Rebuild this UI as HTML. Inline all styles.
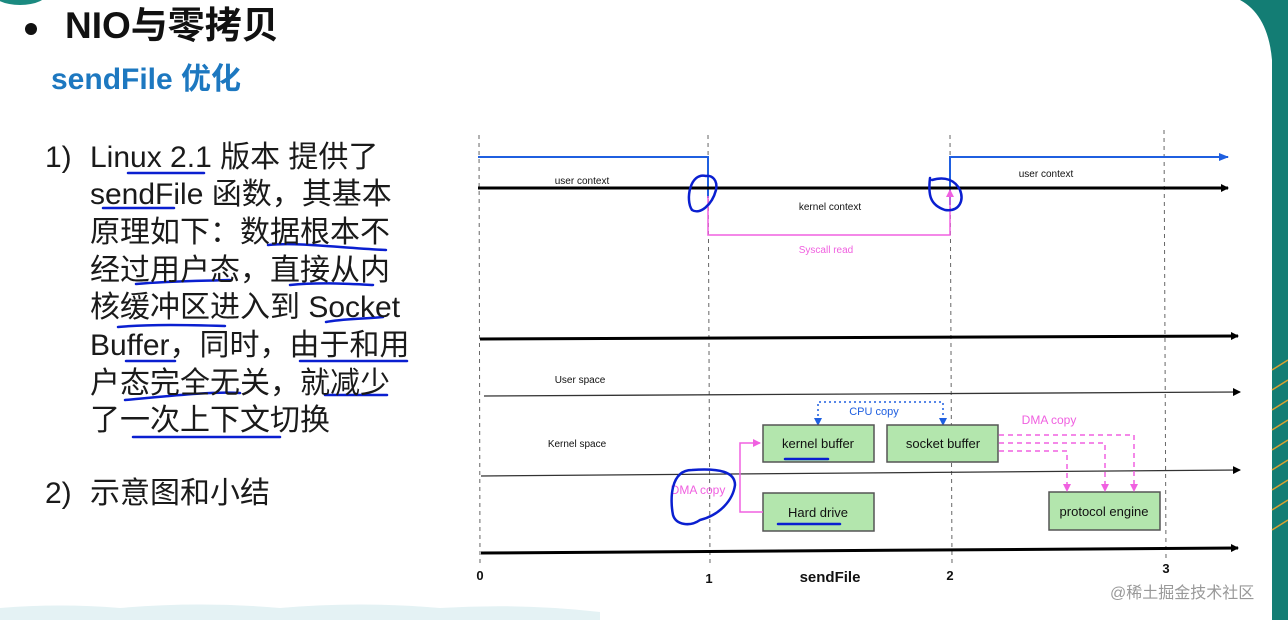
<!DOCTYPE html>
<html><head><meta charset="utf-8"><style>
html,body{margin:0;padding:0;background:#fff}
#w{position:relative;width:1288px;height:620px;overflow:hidden;background:#fff;font-family:"Liberation Sans","Noto Sans CJK SC",sans-serif}
.t{position:absolute;white-space:nowrap;color:#1a1a1a;font-size:30px;line-height:1}
</style></head><body><div id="w">
<svg width="1288" height="620" style="position:absolute;left:0;top:0" xmlns="http://www.w3.org/2000/svg">
<defs>
<marker id="ak" markerWidth="8" markerHeight="8" refX="7" refY="4" orient="auto" markerUnits="userSpaceOnUse"><path d="M0,0L8,4L0,8z" fill="#000"/></marker>
<marker id="ab" markerWidth="10" markerHeight="8" refX="9" refY="4" orient="auto" markerUnits="userSpaceOnUse"><path d="M0,0L10,4L0,8z" fill="#1f5fe0"/></marker>
<marker id="ap" markerWidth="8" markerHeight="8" refX="7" refY="4" orient="auto" markerUnits="userSpaceOnUse"><path d="M0,0L8,4L0,8z" fill="#f060e0"/></marker>
</defs>
<ellipse cx="20" cy="-8" rx="28" ry="13" fill="#1b8a80"/>
<path d="M1240,0 L1288,0 L1288,620 L1272,620 L1272,60 Q1268,15 1240,0z" fill="#137d74"/>
<path d="M1272,370 L1288,360 M1272,390 L1288,380 M1272,410 L1288,400 M1272,430 L1288,420 M1272,450 L1288,440 M1272,470 L1288,460 M1272,490 L1288,480 M1272,510 L1288,500 M1272,530 L1288,520" stroke="#d9a030" stroke-width="1.5"/>
<path d="M0,620 L0,608 Q60,603 120,608 Q200,601 280,608 Q360,601 440,608 Q520,603 600,612 L600,620z" fill="#e4f2f4"/>
<g stroke="#666" stroke-width="1" stroke-dasharray="4,4">
<line x1="479" y1="135" x2="480" y2="565"/><line x1="708" y1="135" x2="710" y2="565"/><line x1="950" y1="135" x2="952" y2="565"/><line x1="1164" y1="130" x2="1166" y2="560"/>
</g>
<path d="M478,157 H708 V198" fill="none" stroke="#1f5fe0" stroke-width="2"/>
<path d="M950,205 V157 H1228" fill="none" stroke="#1f5fe0" stroke-width="2" marker-end="url(#ab)"/>
<line x1="478" y1="188" x2="1228" y2="188" stroke="#000" stroke-width="3" marker-end="url(#ak)"/>
<line x1="480" y1="339" x2="1238" y2="336" stroke="#000" stroke-width="3" marker-end="url(#ak)"/>
<line x1="484" y1="396" x2="1240" y2="392" stroke="#333" stroke-width="1.3" marker-end="url(#ak)"/>
<line x1="481" y1="476" x2="1240" y2="470" stroke="#333" stroke-width="1.3" marker-end="url(#ak)"/>
<line x1="481" y1="553" x2="1238" y2="548" stroke="#000" stroke-width="3" marker-end="url(#ak)"/>
<path d="M708,196 V235 H950 V190" fill="none" stroke="#f060e0" stroke-width="1.5" marker-end="url(#ap)"/>
<path d="M818,426 V402 H943 V426" fill="none" stroke="#1f5fe0" stroke-width="1.5" stroke-dasharray="2,3"/>
<path d="M814,418 L818,426 L822,418z M939,418 L943,426 L947,418z" fill="#1f5fe0"/>
<g fill="#b3e6ad" stroke="#555" stroke-width="1.5">
<rect x="763" y="425" width="111" height="37"/><rect x="887" y="425" width="111" height="37"/>
<rect x="763" y="493" width="111" height="38"/><rect x="1049" y="492" width="111" height="38"/>
</g>
<path d="M763,512 H740 V443 H760" fill="none" stroke="#f060e0" stroke-width="1.5" marker-end="url(#ap)"/>
<g fill="none" stroke="#f060e0" stroke-width="1.5" stroke-dasharray="5,4">
<path d="M999,435 H1134 V490"/><path d="M999,443 H1105 V490"/><path d="M999,451 H1067 V490"/>
</g>
<path d="M1130,484 L1134,492 L1138,484z M1101,484 L1105,492 L1109,484z M1063,484 L1067,492 L1071,484z" fill="#f060e0"/>
<g font-family="Liberation Sans, sans-serif" text-anchor="middle">
<text x="582" y="184" font-size="10" fill="#111">user context</text>
<text x="1046" y="177" font-size="10" fill="#111">user context</text>
<text x="830" y="210" font-size="10" fill="#111">kernel context</text>
<text x="826" y="253" font-size="10" fill="#f060e0">Syscall read</text>
<text x="580" y="383" font-size="10" fill="#111">User space</text>
<text x="577" y="447" font-size="10" fill="#111">Kernel  space</text>
<text x="874" y="415" font-size="11" fill="#1f5fe0">CPU copy</text>
<text x="1049" y="424" font-size="12" fill="#f060e0">DMA copy</text>
<text x="698" y="494" font-size="12" fill="#f060e0">DMA copy</text>
<text x="818" y="448" font-size="13" fill="#111">kernel buffer</text>
<text x="943" y="448" font-size="13" fill="#111">socket buffer</text>
<text x="818" y="517" font-size="13" fill="#111">Hard drive</text>
<text x="1104" y="516" font-size="13" fill="#111">protocol engine</text>
<text x="480" y="580" font-size="13" fill="#111" font-weight="bold">0</text>
<text x="709" y="583" font-size="13" fill="#111" font-weight="bold">1</text>
<text x="830" y="582" font-size="15" fill="#111" font-weight="bold">sendFile</text>
<text x="950" y="580" font-size="13" fill="#111" font-weight="bold">2</text>
<text x="1166" y="573" font-size="13" fill="#111" font-weight="bold">3</text>
</g>
<text x="1110" y="598" font-family="Liberation Sans, Noto Sans CJK SC, sans-serif" font-size="16" fill="#999">@稀土掘金技术社区</text>
<circle cx="31" cy="29" r="6" fill="#111"/>
<g fill="none" stroke="#0a1fd0" stroke-width="2.5" stroke-linecap="round">
<path d="M706,176 C690,172 685,200 692,210 C700,215 712,205 716,190 C718,180 712,175 706,176"/>
<path d="M930,178 C928,195 930,205 945,210 C960,212 964,200 960,190 C955,180 945,176 932,180"/>
<path d="M692,470 C670,470 670,500 673,515 C676,525 690,527 700,520 C720,515 733,500 735,485 C735,472 720,468 692,470"/>
<path d="M785,459 H828"/><path d="M778,524 H840"/>
<path d="M128,173 H204"/><path d="M103,208 H174"/>
<path d="M268,245 C300,242 340,248 386,250"/>
<path d="M136,284 C170,281 200,281 230,280"/><path d="M290,285 C320,282 350,284 373,285"/>
<path d="M118,327 C150,324 190,325 225,326"/><path d="M326,322 C340,319 360,319 383,317"/>
<path d="M126,361 H175"/><path d="M300,361 H407"/>
<path d="M125,400 C160,397 210,391 240,393"/><path d="M325,395 H387"/>
<path d="M133,437 H280"/>
</g>
</svg>
<div class="t" style="left:65px;top:7px;font-size:37px;font-weight:bold;color:#111">NIO与零拷贝</div>
<div class="t" style="left:51px;top:65px;font-size:30px;font-weight:bold;color:#1d78c0">sendFile 优化</div>
<div class="t" style="left:45px;top:143px">1)</div>
<div class="t" style="left:90px;top:143px">Linux 2.1 版本 提供了</div>
<div class="t" style="left:90px;top:180px">sendFile 函数，其基本</div>
<div class="t" style="left:90px;top:218px">原理如下：数据根本不</div>
<div class="t" style="left:90px;top:256px">经过用户态，直接从内</div>
<div class="t" style="left:90px;top:293px">核缓冲区进入到 Socket</div>
<div class="t" style="left:90px;top:331px">Buffer，同时，由于和用</div>
<div class="t" style="left:90px;top:369px">户态完全无关，就减少</div>
<div class="t" style="left:90px;top:406px">了一次上下文切换</div>
<div class="t" style="left:45px;top:479px">2)</div>
<div class="t" style="left:90px;top:479px">示意图和小结</div>
</div></body></html>
